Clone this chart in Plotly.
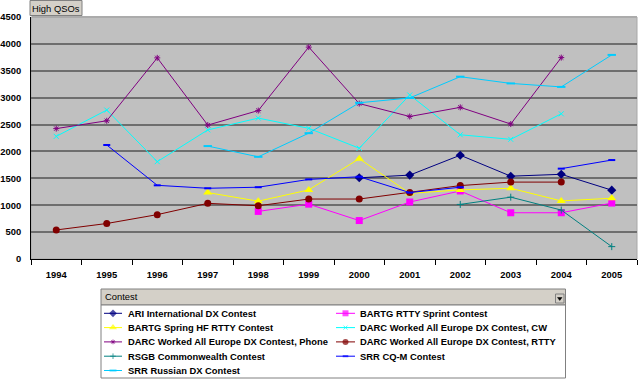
import plotly.graph_objects as go

# ---------------- data ----------------
years = ['1994', '1995', '1996', '1997', '1998', '1999', '2000', '2001', '2002', '2003', '2004', '2005']

ari_international = [None, None, None, None, None, None, 1510, 1560, 1930, 1540, 1575, 1280]
bartg_rtty_sprint = [None, None, None, None, 885, 1020, 715, 1060, 1265, 860, 860, 1040]
bartg_spring_hf = [None, None, None, 1235, 1075, 1285, 1865, 1220, 1285, 1315, 1080, 1130]
darc_waedc_cw = [2280, 2770, 1810, 2400, 2620, 2430, 2060, 3050, 2310, 2225, 2700, None]
darc_waedc_phone = [2425, 2570, 3740, 2490, 2760, 3940, 2890, 2650, 2820, 2510, 3745, None]
darc_waedc_rtty = [540, 660, 825, 1035, 990, 1115, 1115, 1235, 1365, 1430, 1430, None]
rsgb_commonwealth = [None, None, None, None, None, None, None, None, 1015, 1150, 910, 230]
srr_cqm = [None, 2120, 1370, 1315, 1335, 1480, 1530, 1235, 1335, None, 1680, 1840]
srr_russian_dx = [None, None, None, 2100, 1900, 2340, 2905, 2995, 3390, 3265, 3200, 3795]

series_names = [
    'ARI International DX Contest',
    'BARTG RTTY Sprint Contest',
    'BARTG Spring HF RTTY Contest',
    'DARC Worked All Europe DX Contest, CW',
    'DARC Worked All Europe DX Contest, Phone',
    'DARC Worked All Europe DX Contest, RTTY',
    'RSGB Commonwealth Contest',
    'SRR CQ-M Contest',
    'SRR Russian DX Contest',
]
series_values = [ari_international, bartg_rtty_sprint, bartg_spring_hf, darc_waedc_cw,
                 darc_waedc_phone, darc_waedc_rtty, rsgb_commonwealth, srr_cqm, srr_russian_dx]

y_ticks = [0, 500, 1000, 1500, 2000, 2500, 3000, 3500, 4000, 4500]

# ---------------- styles ----------------
styles = [
    dict(color='#000080', symbol='diamond', size=7, lw=0),
    dict(color='#FF00FF', symbol='square', size=7, lw=0),
    dict(color='#FFFF00', symbol='triangle-up', size=8, lw=0),
    dict(color='#00FFFF', symbol='x-thin', size=5, lw=1),
    dict(color='#800080', symbol='asterisk-open', size=5, lw=1),
    dict(color='#800000', symbol='circle', size=7, lw=0),
    dict(color='#008080', symbol='cross-thin', size=5, lw=1),
    dict(color='#0000FF', symbol='line-ew', size=5, lw=2),
    dict(color='#00CCFF', symbol='line-ew', size=6, lw=2),
]

W, H = 640, 380
PL, PR, PT, PB = 31, 637, 17, 259
FONT = 'Liberation Sans, Arial, sans-serif'


def px(x):
    return x / W


def py(y):
    return 1 - y / H


fig = go.Figure()

for name, vals, st in zip(series_names, series_values, styles):
    fig.add_trace(go.Scatter(
        x=years, y=vals, name=name, mode='lines+markers',
        line=dict(color=st['color'], width=1),
        marker=dict(symbol=st['symbol'], size=st['size'], color=st['color'],
                    line=dict(color=st['color'], width=st['lw'])),
        showlegend=False, xaxis='x', yaxis='y', cliponaxis=False,
    ))

# ---------- custom legend (drawn on a pixel overlay axis) ----------
row0, rowstep = 313.3, 14.3
col_line = [(104, 122), (336, 355)]
col_text = [125.5, 357.5]
annotations = []
for i, (name, st) in enumerate(zip(series_names, styles)):
    r, c = divmod(i, 2)
    yy = row0 + r * rowstep
    x0, x1 = col_line[c]
    fig.add_trace(go.Scatter(
        x=[x0, (x0 + x1) / 2, x1], y=[yy, yy, yy], mode='lines+markers',
        line=dict(color=st['color'], width=1),
        marker=dict(symbol=st['symbol'], size=[0, st['size'] - 1, 0], color=st['color'],
                    line=dict(color=st['color'], width=st['lw'])),
        showlegend=False, hoverinfo='skip', xaxis='x2', yaxis='y2',
    ))
    annotations.append(dict(
        x=col_text[c], y=yy, xref='x2', yref='y2', text=name, showarrow=False,
        xanchor='left', yanchor='middle', font=dict(family=FONT, size=9.4, color='black', weight='bold'),
    ))

annotations.append(dict(x=103, y=296.5, xref='x2', yref='y2', text='Contest', showarrow=False,
                        xanchor='left', yanchor='middle', font=dict(family=FONT, size=9.4, color='#000')))
annotations.append(dict(x=56, y=8, xref='x2', yref='y2', text='High QSOs', showarrow=False,
                        xanchor='center', yanchor='middle', font=dict(family=FONT, size=9.4, color='#000')))

shapes = [
    # plot area background
    dict(type='rect', xref='paper', yref='paper', x0=px(PL), x1=px(PR), y0=py(PB), y1=py(PT),
         fillcolor='#C0C0C0', line=dict(color='#A8A8A8', width=1), layer='below'),
    # soften the top edge of the plot area
    dict(type='line', xref='paper', yref='paper', x0=px(PL + 1), x1=px(PR), y0=py(PT), y1=py(PT),
         line=dict(color='#ABABAB', width=2), layer='above'),
    # High QSOs button
    dict(type='rect', xref='paper', yref='paper', x0=px(30), x1=px(82), y0=py(15.5), y1=py(0.5),
         fillcolor='#D4D0C8', line=dict(color='#808080', width=1), layer='below'),
    # legend header
    dict(type='rect', xref='paper', yref='paper', x0=px(101), x1=px(565.5), y0=py(305), y1=py(289),
         fillcolor='#D4D0C8', line=dict(color='#808080', width=1), layer='below'),
    # legend body
    dict(type='rect', xref='paper', yref='paper', x0=px(101), x1=px(565.5), y0=py(378), y1=py(305),
         fillcolor='#FFFFFF', line=dict(color='#808080', width=1), layer='below'),
    # dropdown button
    dict(type='rect', xref='paper', yref='paper', x0=px(555.5), x1=px(564), y0=py(303), y1=py(294),
         fillcolor='#D4D0C8', line=dict(color='#808080', width=1), layer='below'),
    dict(type='path', xref='paper', yref='paper',
         path='M {} {} L {} {} L {} {} Z'.format(px(557.5), py(297.5), px(562), py(297.5), px(559.75), py(300.5)),
         fillcolor='#000000', line=dict(color='#000000', width=0.5), layer='below'),
]

fig.update_layout(
    width=W, height=H,
    margin=dict(l=0, r=0, t=0, b=0, autoexpand=False),
    paper_bgcolor='white',
    plot_bgcolor='rgba(0,0,0,0)',
    showlegend=False,
    font=dict(family=FONT, size=9.4, color='black'),
    xaxis=dict(
        domain=[px(PL), px(PR)], anchor='y', type='category', categoryorder='array', categoryarray=years,
        range=[-0.5, 11.5], showgrid=False, showline=True, linecolor='#000000', linewidth=1,
        ticks='outside', tickson='boundaries', ticklen=5, tickcolor='#000000', tickwidth=1,
        tickfont=dict(family=FONT, size=9.4, color='black', weight='bold'), ticklabelstandoff=7,
        zeroline=False, fixedrange=True, automargin=False,
    ),
    yaxis=dict(
        domain=[py(PB), py(PT)], anchor='x', range=[0, 4500], tickvals=y_ticks,
        ticktext=[str(v) for v in y_ticks],
        showgrid=True, gridcolor='#6E6E6E', gridwidth=2, showline=True, linecolor='#000000', linewidth=1,
        ticks='', tickfont=dict(family=FONT, size=9.4, color='black', weight='bold'), ticklabelstandoff=7,
        zeroline=False, fixedrange=True, automargin=False,
    ),
    xaxis2=dict(domain=[0, 1], range=[0, W], visible=False, anchor='y2', fixedrange=True),
    yaxis2=dict(domain=[0, 1], range=[H, 0], visible=False, anchor='x2', fixedrange=True),
    shapes=shapes,
    annotations=annotations,
)

fig.write_html('out.html', config={'displayModeBar': False},
               post_script="document.body.style.margin='0';document.body.style.overflow='hidden';")
